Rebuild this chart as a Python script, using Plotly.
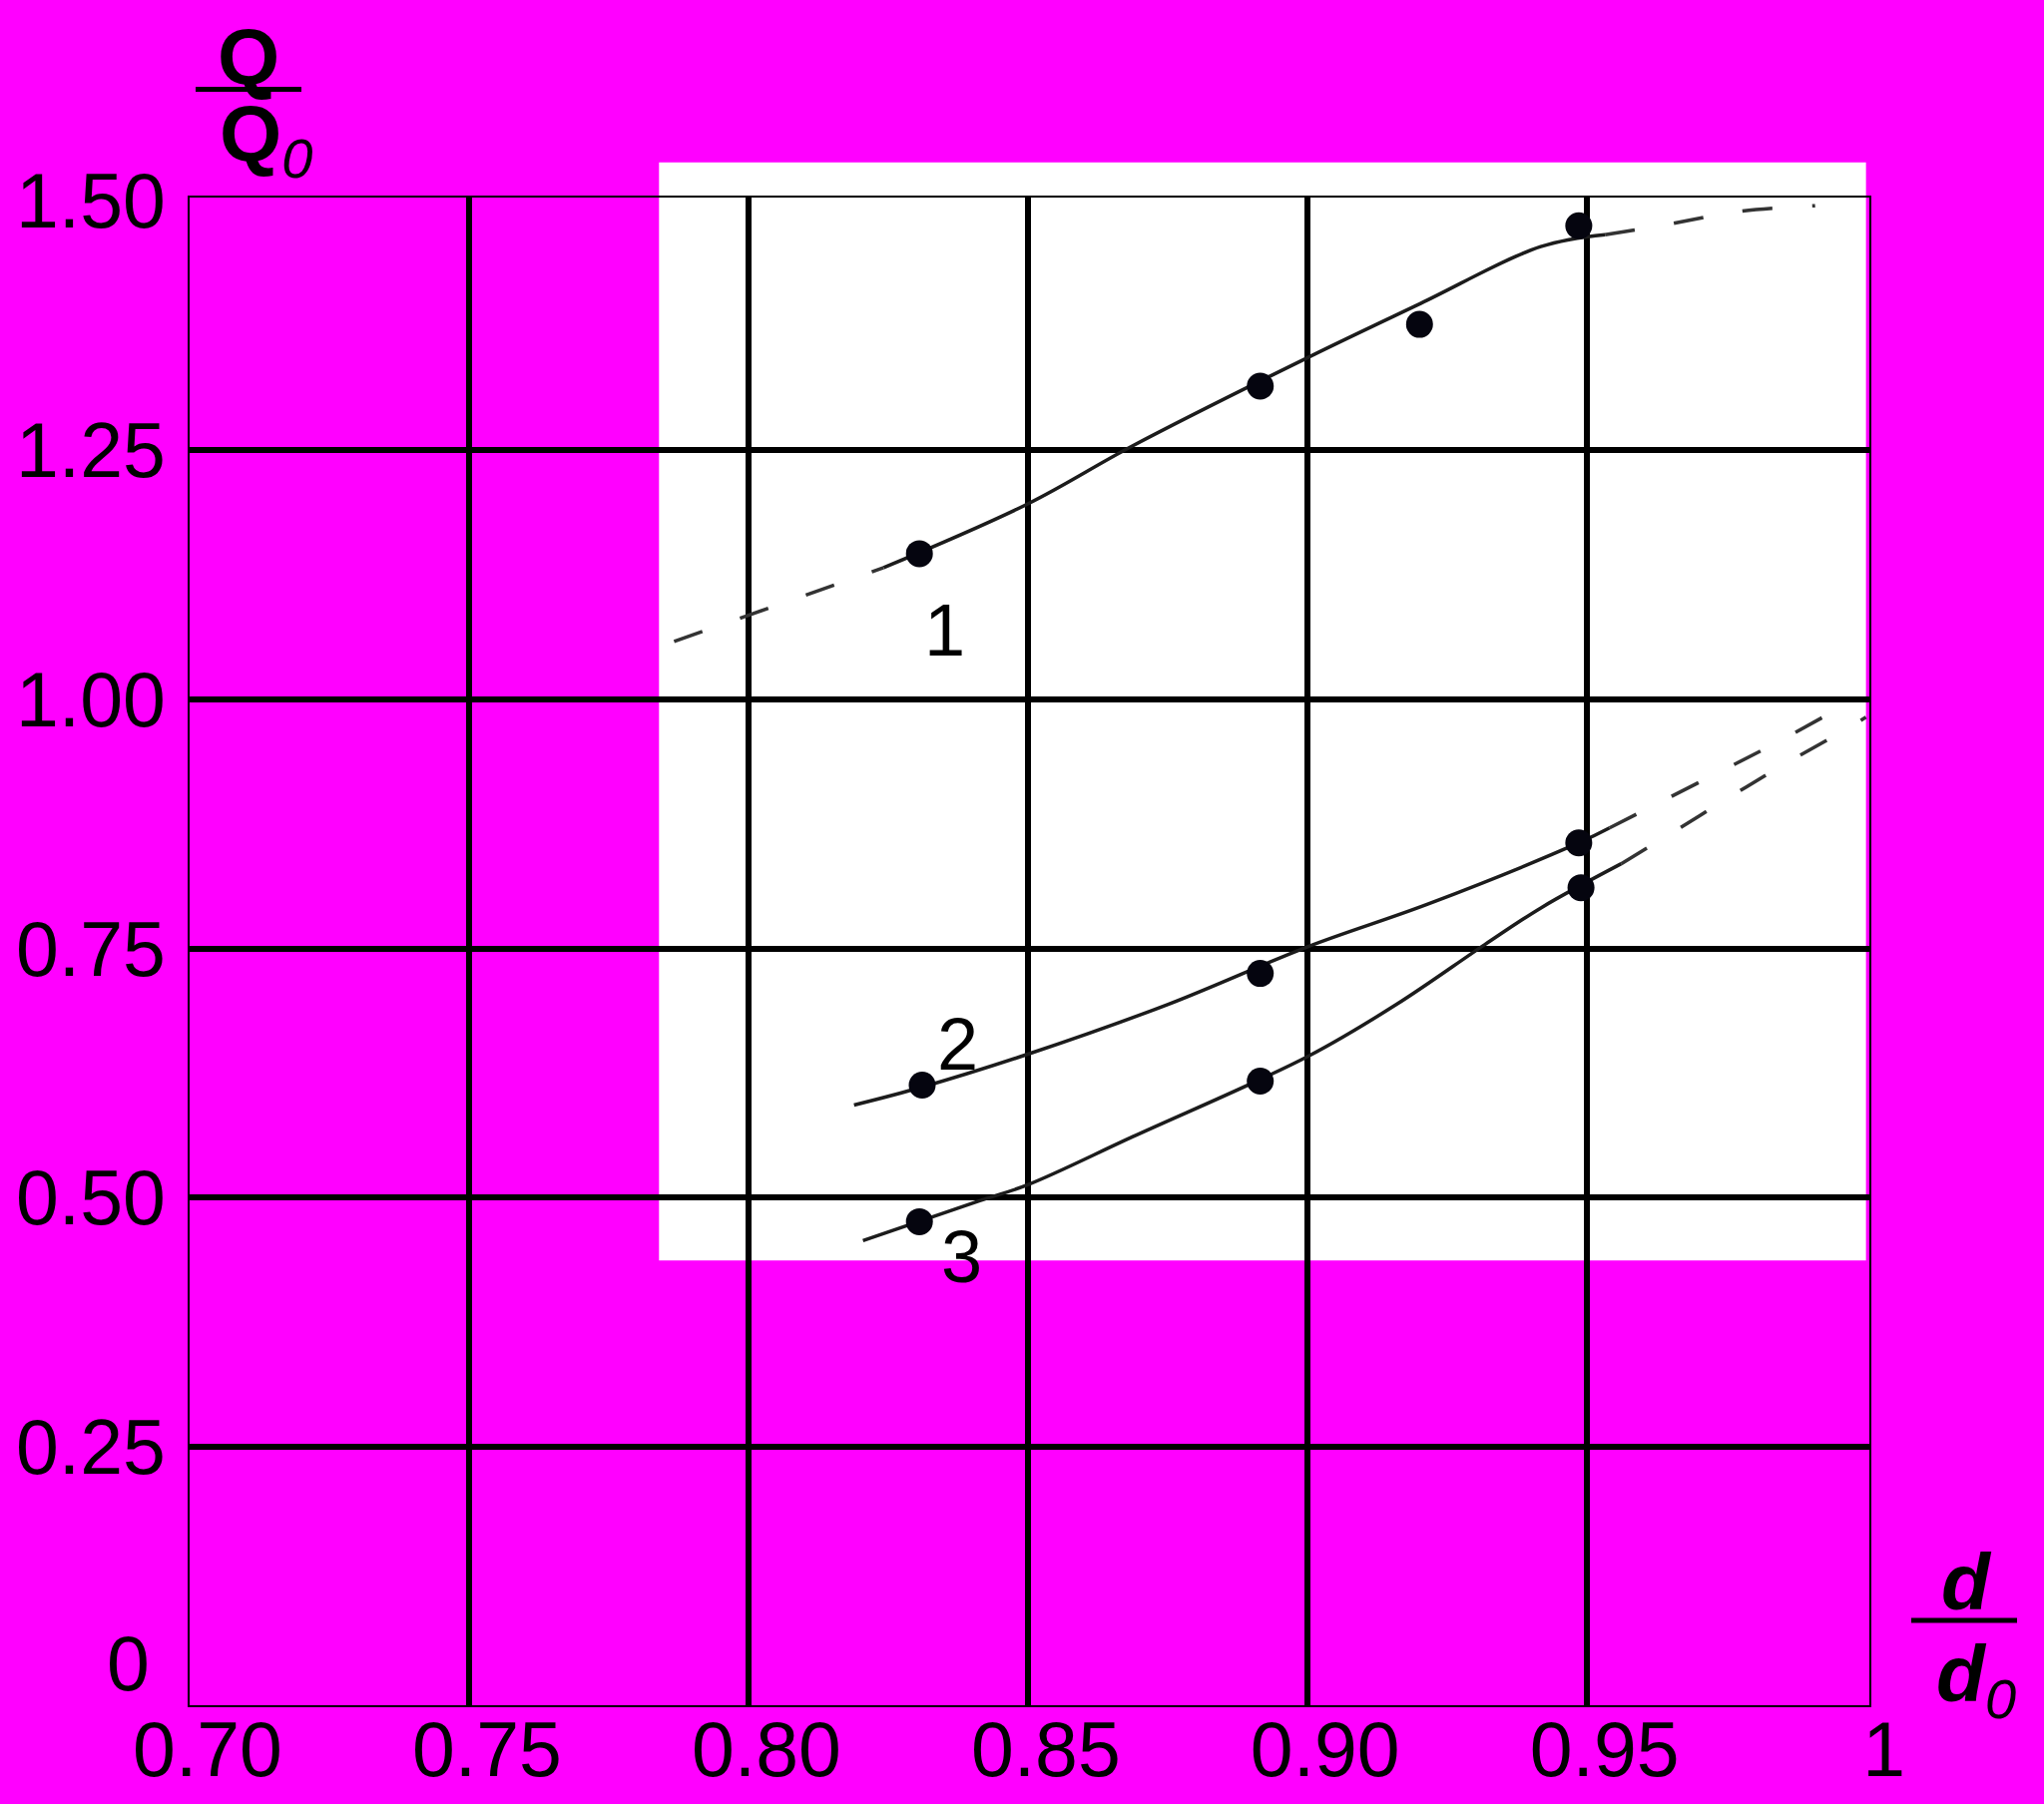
import plotly.graph_objects as go

# ---------------- data ----------------
x_tick_vals = [0.70, 0.75, 0.80, 0.85, 0.90, 0.95, 1.00]
x_tick_text = ["0.70", "0.75", "0.80", "0.85", "0.90", "0.95", "1"]
y_tick_vals = [0.25, 0.50, 0.75, 1.00, 1.25, 1.50]
y_tick_text = ["0.25", "0.50", "0.75", "1.00", "1.25", "1.50"]
y_zero_val = 0
y_zero_text = "0"
x_grid_vals = [0.75, 0.80, 0.85, 0.90, 0.95]
y_grid_vals = [0.25, 0.50, 0.75, 1.00, 1.25]

# curve 1
c1_solid_x = [0.8242, 0.8500, 0.8687, 0.9002, 0.9203, 0.9418, 0.9533]
c1_solid_y = [1.132, 1.196, 1.254, 1.343, 1.397, 1.454, 1.466]
c1_dash_left_x = [0.7867, 0.8242]
c1_dash_left_y = [1.058, 1.132]
c1_dash_right_x = [0.9533, 0.9633, 0.9770, 0.9909]
c1_dash_right_y = [1.466, 1.475, 1.489, 1.495]
c1_pts_x = [0.8306, 0.8916, 0.9201, 0.9486]
c1_pts_y = [1.146, 1.314, 1.376, 1.475]

# curve 2
c2_solid_x = [0.8189, 0.8311, 0.8500, 0.8751, 0.9002, 0.9218, 0.9486, 0.9541]
c2_solid_y = [0.593, 0.611, 0.644, 0.694, 0.752, 0.795, 0.856, 0.871]
c2_dash_x = [0.9541, 0.9622, 0.9727, 0.9835, 0.9971]
c2_dash_y = [0.871, 0.894, 0.924, 0.955, 0.997]
c2_pts_x = [0.8311, 0.8916, 0.9486]
c2_pts_y = [0.613, 0.725, 0.856]

# curve 3
c3_solid_x = [0.8205, 0.8414, 0.8500, 0.8687, 0.9002, 0.9160, 0.9318, 0.9419, 0.9562]
c3_solid_y = [0.457, 0.497, 0.513, 0.561, 0.642, 0.694, 0.754, 0.791, 0.835]
c3_dash_x = [0.9562, 0.9641, 0.9745, 0.9842, 0.9960, 1.0000]
c3_dash_y = [0.835, 0.862, 0.898, 0.931, 0.9685, 0.982]
c3_pts_x = [0.8306, 0.8916, 0.9490]
c3_pts_y = [0.476, 0.617, 0.811]

curve_labels = ["1", "2", "3"]
curve_label_x = [0.8352, 0.8375, 0.8382]
curve_label_y = [1.0695, 0.6543, 0.4406]

# white background panel (data units)
panel_x = [0.784, 1.000]
panel_y = [0.437, 1.5385]

# ---------------- layout constants ----------------
W, H = 2048, 1808
ML, MR, MT, MB = 190, 175, 198, 99
X_RANGE = [0.70, 1.0006]
Y_RANGE = [-0.009, 1.5032]
MAGENTA = "#FF00FF"
FONT = "Liberation Sans, Arial, sans-serif"


def x_to_paper(x):
    return (x - X_RANGE[0]) / (X_RANGE[1] - X_RANGE[0])


def y_to_paper(y):
    return (y - Y_RANGE[0]) / (Y_RANGE[1] - Y_RANGE[0])


def px_to_paper(px):
    return (px - ML) / (W - ML - MR)


def py_to_paper(py):
    return 1 - (py - MT) / (H - MT - MB)


fig = go.Figure()

solid_style = dict(color="#1c1c1c", width=3.5, shape="spline")
dash_style = dict(color="#333333", width=3.5, dash="30px,40px", shape="spline")
marker_style = dict(color="#05050f", size=27, symbol="circle")

for sx, sy in [(c1_solid_x, c1_solid_y), (c2_solid_x, c2_solid_y), (c3_solid_x, c3_solid_y)]:
    fig.add_trace(go.Scatter(x=sx, y=sy, mode="lines", line=solid_style,
                             showlegend=False, hoverinfo="skip"))
for dx, dy in [(c1_dash_left_x, c1_dash_left_y), (c1_dash_right_x, c1_dash_right_y),
               (c2_dash_x, c2_dash_y), (c3_dash_x, c3_dash_y)]:
    fig.add_trace(go.Scatter(x=dx, y=dy, mode="lines", line=dash_style,
                             showlegend=False, hoverinfo="skip"))
for mx, my in [(c1_pts_x, c1_pts_y), (c2_pts_x, c2_pts_y), (c3_pts_x, c3_pts_y)]:
    fig.add_trace(go.Scatter(x=mx, y=my, mode="markers", marker=marker_style,
                             showlegend=False))

# white panel (below gridlines)
fig.add_shape(type="rect", xref="paper", yref="paper", layer="below",
              x0=x_to_paper(panel_x[0]), x1=x_to_paper(panel_x[1]),
              y0=y_to_paper(panel_y[0]), y1=y_to_paper(panel_y[1]),
              fillcolor="white", line=dict(width=0))

annotations = []
for t, ax, ay in zip(curve_labels, curve_label_x, curve_label_y):
    annotations.append(dict(x=ax, y=ay, xref="x", yref="y", text=t, showarrow=False,
                            font=dict(family=FONT, size=74, color="black"),
                            xanchor="center", yanchor="middle"))

# zero label of y axis (sits a bit above its gridline position in the original)
annotations.append(dict(x=0, y=y_zero_val, xref="paper", yref="y", text=y_zero_text,
                        showarrow=False, xanchor="right", yanchor="middle",
                        xshift=-(ML - 152), yshift=33,
                        font=dict(family=FONT, size=77, color="black")))

# axis titles as fractions
annotations += [
    dict(x=px_to_paper(248.5), y=py_to_paper(57), xref="paper", yref="paper",
         text="<b>Q</b>", showarrow=False, xanchor="center", yanchor="middle",
         font=dict(family=FONT, size=80, color="black")),
    dict(x=px_to_paper(218), y=py_to_paper(139), xref="paper", yref="paper",
         text="<b>Q</b><sub><i>0</i></sub>", showarrow=False, xanchor="left", yanchor="middle",
         font=dict(family=FONT, size=80, color="black")),
    dict(x=px_to_paper(1970), y=py_to_paper(1585), xref="paper", yref="paper",
         text="<b><i>d</i></b>", showarrow=False, xanchor="center", yanchor="middle",
         font=dict(family=FONT, size=80, color="black")),
    dict(x=px_to_paper(1938), y=py_to_paper(1683), xref="paper", yref="paper",
         text="<b><i>d</i></b><sub><i>0</i></sub>", showarrow=False, xanchor="left", yanchor="middle",
         font=dict(family=FONT, size=80, color="black")),
]

fig.add_shape(type="line", xref="paper", yref="paper",
              x0=px_to_paper(196), x1=px_to_paper(302),
              y0=py_to_paper(89.5), y1=py_to_paper(89.5),
              line=dict(color="black", width=5))
fig.add_shape(type="line", xref="paper", yref="paper",
              x0=px_to_paper(1915), x1=px_to_paper(2021),
              y0=py_to_paper(1624), y1=py_to_paper(1624),
              line=dict(color="black", width=5))

axis_common = dict(showline=True, mirror=True, linecolor="black", linewidth=1.5,
                   showgrid=False, zeroline=False, ticks="", ticklen=0, automargin=False,
                   tickfont=dict(family=FONT, size=77, color="black"))

fig.update_layout(
    width=W, height=H, autosize=False,
    margin=dict(l=ML, r=MR, t=MT, b=MB, pad=0, autoexpand=False),
    paper_bgcolor=MAGENTA, plot_bgcolor=MAGENTA,
    showlegend=False,
    annotations=annotations,
    xaxis=dict(range=X_RANGE, tickmode="array", tickvals=x_tick_vals, ticktext=x_tick_text,
               ticklabelshift=18, ticklabelstandoff=-23,
               minor=dict(tickmode="array", tickvals=x_grid_vals, showgrid=True,
                          gridcolor="black", gridwidth=6, ticks=""),
               **axis_common),
    yaxis=dict(range=Y_RANGE, tickmode="array", tickvals=y_tick_vals, ticktext=y_tick_text,
               ticklabelstandoff=7,
               minor=dict(tickmode="array", tickvals=y_grid_vals, showgrid=True,
                          gridcolor="black", gridwidth=6, ticks=""),
               **axis_common),
)

fig.write_html("out.html", config={"displayModeBar": False},
               post_script="document.body.style.margin='0';")
